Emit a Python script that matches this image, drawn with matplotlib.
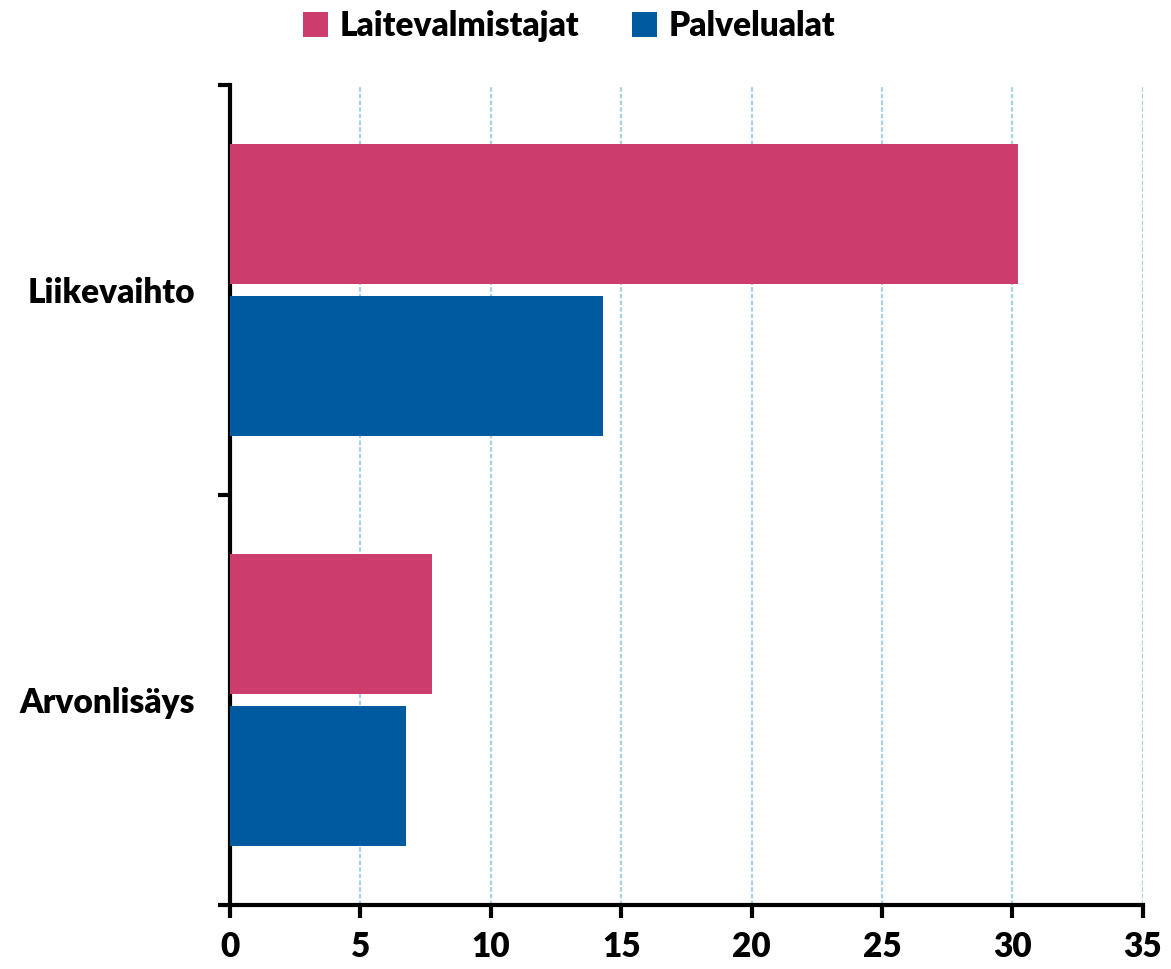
import matplotlib
matplotlib.use("Agg")
import matplotlib.pyplot as plt
import numpy as np

categories = ['Liikevaihto', 'Arvonlisäys']
series_names = ['Laitevalmistajat', 'Palvelualat']
laitevalmistajat = [30.2, 7.75]
palvelualat = [14.3, 6.75]
colors = ['#CC3D6E', '#005AA0']
xticks = [0, 5, 10, 15, 20, 25, 30, 35]

plt.rcParams['font.family'] = ['Lato', 'DejaVu Sans']
plt.rcParams['font.weight'] = 'heavy'

fig = plt.figure(figsize=(11.71, 9.69), dpi=100)
ax = fig.add_axes([0.1964, 0.066, 0.7796, 0.8463])

y = np.arange(len(categories)) + 0.5
h = 0.34
off = 0.185
ax.barh(y - off, laitevalmistajat, height=h, color=colors[0], label=series_names[0], zorder=3)
ax.barh(y + off, palvelualat, height=h, color=colors[1], label=series_names[1], zorder=3)

ax.set_ylim(len(categories), 0)
ax.set_xlim(0, 35)

# category labels at centres, tick marks at boundaries
ax.set_yticks(y)
ax.set_yticklabels(categories, fontsize=24, fontweight='heavy')
ax.tick_params(axis='y', which='major', length=0, pad=25)
ax.set_yticks(np.arange(len(categories) + 1), minor=True)
ax.tick_params(axis='y', which='minor', length=9, width=3, direction='out')

ax.set_xticks(xticks)
ax.set_xticklabels([str(t) for t in xticks], fontsize=24, fontweight='heavy')
ax.tick_params(axis='x', length=9, width=3, direction='out', pad=10)

for s in ['top', 'right']:
    ax.spines[s].set_visible(False)
for s in ['left', 'bottom']:
    ax.spines[s].set_linewidth(3)
    ax.spines[s].set_color('black')

ax.grid(axis='x', color='#A9D2E3', linestyle=(0, (2, 1)), linewidth=1.6, zorder=0)
ax.set_axisbelow(True)

fig.legend(loc='center', bbox_to_anchor=(0.486, 0.973), ncol=2, frameon=False,
           prop={'size': 24, 'weight': 'heavy'}, handlelength=0.75, handleheight=0.75,
           handletextpad=0.35, columnspacing=1.6)

fig.savefig('out.png', dpi=100)
